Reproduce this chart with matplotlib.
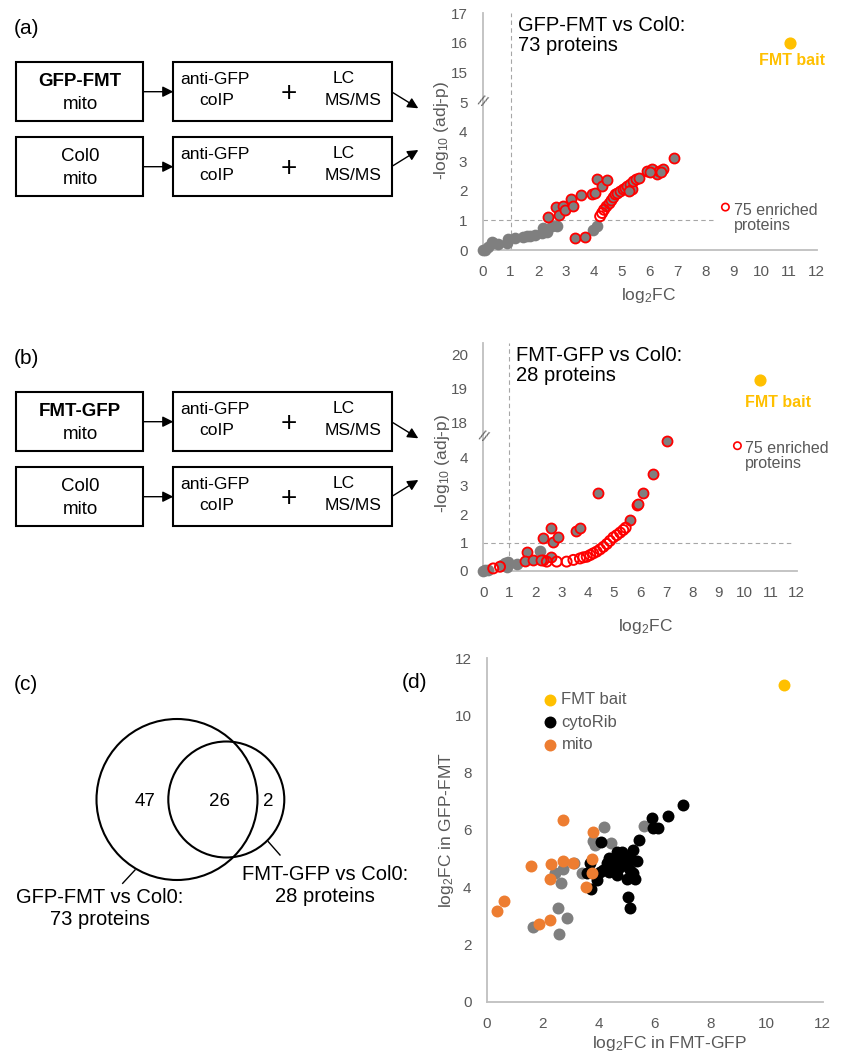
import numpy as np
import matplotlib
matplotlib.use('Agg')
import matplotlib.pyplot as plt
from matplotlib.patches import Rectangle, Circle

plt.rcParams['font.family'] = ['Liberation Sans', 'DejaVu Sans']
plt.rcParams['mathtext.default'] = 'regular'

# ---- data: panel (a) GFP-FMT vs Col0 volcano ----
a_grey_x = [0.0, 0.08, 0.2, 0.32, 0.38, 0.56, 0.86, 0.92, 1.16, 1.46, 1.6, 1.7, 1.88, 2.12, 2.18, 2.3, 2.48, 2.66, 3.98, 4.1]
a_grey_y = [0.0, 0.0, 0.11, 0.28, 0.23, 0.2, 0.23, 0.36, 0.4, 0.45, 0.47, 0.49, 0.51, 0.57, 0.74, 0.62, 0.8, 0.82, 0.68, 0.8]
a_hit_x = [2.36, 2.64, 2.73, 2.88, 2.97, 3.17, 3.26, 3.52, 3.30, 3.66, 3.94, 4.02, 4.10, 4.29, 4.48,
           4.44, 4.52, 4.60, 4.68, 4.76, 4.84, 4.94, 5.04, 5.12, 5.20, 5.30, 5.36, 5.24, 5.40, 5.49,
           5.60, 5.90, 6.08, 6.26, 6.32, 6.48, 6.86, 6.0, 6.4]
a_hit_y = [1.10, 1.45, 1.19, 1.50, 1.34, 1.73, 1.48, 1.85, 0.39, 0.45, 1.88, 1.93, 2.41, 2.16, 2.36,
           1.48, 1.59, 1.70, 1.80, 1.88, 1.93, 1.99, 2.05, 2.10, 2.16, 2.22, 2.05, 1.99, 2.33, 2.41,
           2.44, 2.67, 2.73, 2.56, 2.67, 2.73, 3.11, 2.62, 2.62]
a_ring_x = [4.22, 4.29, 4.36]
a_ring_y = [1.14, 1.25, 1.36]
a_bait = (11.04, 16.0)

# ---- data: panel (b) FMT-GFP vs Col0 volcano ----
b_grey_x = [0.0, 0.06, 0.19, 0.7, 0.83, 0.89, 0.96, 1.28, 2.17]
b_grey_y = [0.0, 0.02, 0.04, 0.2, 0.27, 0.15, 0.33, 0.25, 0.70]
b_hit_x = [1.66, 1.6, 1.92, 2.30, 2.58, 2.68, 2.87, 2.58, 2.30, 3.55, 3.70, 4.38, 5.60, 5.90, 5.94, 6.13, 6.51, 7.02, 2.2]
b_hit_y = [0.68, 0.35, 0.39, 1.15, 1.50, 1.03, 1.19, 0.50, 0.39, 1.42, 1.50, 2.74, 1.80, 2.33, 2.36, 2.74, 3.42, 4.56, 0.4]
b_ring_x = [0.38, 0.64, 2.43, 2.81, 3.19, 3.45, 3.70, 3.83, 3.96, 4.09, 4.21, 4.34, 4.47, 4.60, 4.73,
            4.85, 4.98, 5.11, 5.24, 5.36, 5.45]
b_ring_y = [0.09, 0.15, 0.33, 0.33, 0.33, 0.39, 0.44, 0.48, 0.50, 0.56, 0.62, 0.68, 0.76, 0.85, 0.95,
            1.06, 1.18, 1.26, 1.35, 1.44, 1.52]
b_bait = (10.6, 19.27)

# ---- data: panel (c) venn ----
venn_counts = [47, 26, 2]
venn_sets = ['GFP-FMT vs Col0:\n73 proteins', 'FMT-GFP vs Col0:\n28 proteins']

# ---- data: panel (d) log2FC vs log2FC ----
d_bait = (10.62, 11.07)
d_rib_x = [7.02, 6.49, 5.89, 5.93, 6.13, 5.44, 5.24, 5.36, 5.30, 5.12, 5.0, 5.06, 4.82, 4.64, 4.52, 4.35,
           4.29, 4.17, 4.35, 4.64, 4.76, 4.88, 5.12, 5.24, 5.04, 5.1, 4.08, 3.93, 3.71, 3.69, 3.57, 4.05, 4.52]
d_rib_y = [6.86, 6.48, 6.42, 6.07, 6.07, 5.63, 5.29, 4.91, 4.30, 4.59, 4.30, 4.88, 5.23, 5.23, 4.94, 5.0,
           4.83, 4.59, 4.53, 4.42, 4.71, 4.94, 5.06, 4.48, 3.64, 3.28, 5.58, 4.24, 3.92, 4.83, 4.5, 4.53, 4.65]
d_other_x = [5.62, 4.19, 4.43, 3.81, 3.87, 3.1, 3.39, 2.74, 2.44, 2.64, 2.55, 2.86, 1.64, 2.58]
d_other_y = [6.14, 6.1, 5.55, 5.6, 5.47, 4.85, 4.51, 4.65, 4.51, 4.13, 3.26, 2.93, 2.62, 2.36]
d_mito_x = [2.74, 3.81, 1.57, 2.29, 2.74, 3.07, 3.75, 3.75, 2.26, 3.54, 0.6, 0.36, 1.88, 2.26]
d_mito_y = [6.36, 5.91, 4.73, 4.8, 4.92, 4.86, 4.98, 4.51, 4.28, 4.01, 3.51, 3.16, 2.7, 2.85]

GREY = '#7f7f7f'
TXT = '#595959'
SPINE = '#bfbfbf'
GOLD = '#ffc000'
ORANGE = '#ed7d31'

W, H = 846, 1054
fig = plt.figure(figsize=(W / 100, H / 100), dpi=100)


def px_axes(x0, x1, ytop, ybot):
    return fig.add_axes([x0 / W, 1 - ybot / H, (x1 - x0) / W, (ybot - ytop) / H])


# overlay for diagrams / venn / panel letters (pixel coords)
ov = fig.add_axes([0, 0, 1, 1])
ov.set_xlim(0, W)
ov.set_ylim(H, 0)
ov.axis('off')


def flow(y0, top_name):
    for k, (name, bold) in enumerate([(top_name, True), ('Col0', False)]):
        yb = y0 + 62.3 + 75 * k
        ov.add_patch(Rectangle((15.7, yb), 127.6, 58.4, fill=False, lw=1.5, ec='black'))
        ov.add_patch(Rectangle((173.3, yb), 219, 58.4, fill=False, lw=1.5, ec='black'))
        ov.text(80, yb + 19.5, name, ha='center', va='center', fontsize=13.5,
                fontweight='bold' if bold else 'normal')
        ov.text(80, yb + 42, 'mito', ha='center', va='center', fontsize=13.5)
        ov.text(215, yb + 17.5, 'anti-GFP', ha='center', va='center', fontsize=12.5)
        ov.text(216.7, yb + 38.5, 'coIP', ha='center', va='center', fontsize=12.5)
        ov.text(288.3, yb + 32, '+', ha='center', va='center', fontsize=20)
        ov.text(343.3, yb + 16.5, 'LC', ha='center', va='center', fontsize=12.5)
        ov.text(353.3, yb + 38, 'MS/MS', ha='center', va='center', fontsize=12.5)
        ym = yb + 29.4
        ov.annotate('', xy=(173.3, ym), xytext=(143.3, ym),
                    arrowprops=dict(arrowstyle='-|>', color='black', lw=1, mutation_scale=16,
                                    shrinkA=0, shrinkB=0))
    ov.annotate('', xy=(418.3, y0 + 108.3), xytext=(393, y0 + 92.7),
                arrowprops=dict(arrowstyle='-|>', color='black', lw=1, mutation_scale=16,
                                shrinkA=0, shrinkB=0))
    ov.annotate('', xy=(418.3, y0 + 150), xytext=(393, y0 + 165.7),
                arrowprops=dict(arrowstyle='-|>', color='black', lw=1, mutation_scale=16,
                                shrinkA=0, shrinkB=0))


flow(0, 'GFP-FMT')
flow(330, 'FMT-GFP')

for lab, x, y in [('(a)', 14, 28), ('(b)', 14, 358), ('(c)', 14, 684), ('(d)', 402, 682)]:
    ov.text(x, y, lab, ha='left', va='center', fontsize=15)

# venn
ov.add_patch(Circle((177, 799.5), 80.5, fill=False, lw=1.5, ec='black'))
ov.add_patch(Circle((226.3, 799.5), 58, fill=False, lw=1.5, ec='black'))
for n, x in zip(venn_counts, [145, 219, 268]):
    ov.text(x, 802, str(n), ha='center', va='center', fontsize=13.5)
ov.plot([135, 122.7], [870, 883.3], color='black', lw=1)
ov.plot([268.3, 280], [841.7, 855], color='black', lw=1)
ov.text(100, 888, venn_sets[0], ha='center', va='top', fontsize=14.5, linespacing=1.2)
ov.text(325.3, 865, venn_sets[1], ha='center', va='top', fontsize=14.5, linespacing=1.2)


def style(ax):
    for s in ['top', 'right']:
        ax.spines[s].set_visible(False)
    for s in ['left', 'bottom']:
        ax.spines[s].set_color(SPINE)
        ax.spines[s].set_linewidth(1.3)
    ax.tick_params(length=0, labelsize=11, labelcolor=TXT, pad=11)
    ax.patch.set_alpha(0)


def volcano(ax, fwd, inv, ymax, yticks, gx, gy, hx, hy, rx, ry, bait, title, lab_xy, leg_xy, ylab_xy, xlab_xy):
    style(ax)
    ax.set_yscale('function', functions=(fwd, inv))
    ax.set_xlim(0, 12)
    ax.set_ylim(0, ymax)
    ax.set_xticks(range(13))
    ax.set_yticks(yticks)
    ax.axvline(1, color='#a6a6a6', lw=0.8, ls=(0, (4, 3)), ymax=1.0)
    ax.plot([0, 11.9 if ymax > 20 else 8.3], [1, 1], color='#a6a6a6', lw=0.8, ls=(0, (4, 3)))
    ax.scatter(gx, gy, s=52, color=GREY, edgecolor=GREY, lw=1.2, clip_on=False, zorder=3)
    ax.scatter(hx, hy, s=52, color=GREY, edgecolor='red', lw=1.3, clip_on=False, zorder=4)
    ax.scatter(rx, ry, s=52, facecolor='none', edgecolor='red', lw=1.4, clip_on=False, zorder=4)
    ax.scatter([bait[0]], [bait[1]], s=60, color=GOLD, zorder=5, clip_on=False)
    ax.text(lab_xy[0], lab_xy[1], 'FMT bait', color=GOLD, fontweight='bold', fontsize=11.5,
            ha='center', va='center')
    ax.scatter([leg_xy[0]], [leg_xy[1]], s=28, facecolor='none', edgecolor='red', lw=1.2)
    ax.text(leg_xy[0] + 0.3, leg_xy[1] + 0.15, '75 enriched\nproteins', color=TXT, fontsize=11.5,
            ha='left', va='top', linespacing=1.0)
    ax.text(0.105, 0.99, title, transform=ax.transAxes, ha='left', va='top', fontsize=14.5,
            linespacing=1.1)
    ax.text(0, fwd(np.array(5.6 if ymax < 20 else 4.7)), '//', transform=ax.get_yaxis_transform(),
            ha='center', va='center', fontsize=10, color=TXT, rotation=-25)
    ax.set_ylabel('-log$_{10}$ (adj-p)', fontsize=12.5, color=TXT)
    ax.set_xlabel('log$_{2}$FC', fontsize=12.5, color=TXT)
    ax.yaxis.set_label_coords(*ylab_xy)
    ax.xaxis.set_label_coords(*xlab_xy)


def fa(y):
    y = np.asarray(y, dtype=float)
    return np.where(y <= 5, y, np.where(y >= 15, y - 9, 5 + (y - 5) / 10))


def ia(p):
    p = np.asarray(p, dtype=float)
    return np.where(p <= 5, p, np.where(p >= 6, p + 9, 5 + (p - 5) * 10))


def fb(y):
    y = np.asarray(y, dtype=float)
    return np.where(y <= 5, y, np.where(y >= 18, 5.2 + 1.2 * (y - 18), 5 + (y - 5) * 0.2 / 13))


def ib(p):
    p = np.asarray(p, dtype=float)
    return np.where(p <= 5, p, np.where(p >= 5.2, 18 + (p - 5.2) / 1.2, 5 + (p - 5) * 13 / 0.2))


axa = px_axes(482.7, 816.7, 13.3, 250)
volcano(axa, fa, ia, 17.0, [0, 1, 2, 3, 4, 5, 15, 16, 17], a_grey_x, a_grey_y, a_hit_x, a_hit_y,
        a_ring_x, a_ring_y, a_bait, 'GFP-FMT vs Col0:\n73 proteins', (11.1, 15.4), (8.72, 1.45),
        (-0.095, 0.507), (0.495, -0.15))

axb = px_axes(483.3, 796.7, 343.3, 571)
volcano(axb, fb, ib, 20.33, [0, 1, 2, 3, 4, 18, 19, 20], b_grey_x, b_grey_y, b_hit_x, b_hit_y,
        b_ring_x, b_ring_y, b_bait, 'FMT-GFP vs Col0:\n28 proteins', (11.3, 18.6), (9.73, 4.4),
        (-0.1, 0.473), (0.519, -0.2))

# panel (d)
axd = px_axes(486.7, 822.7, 658, 1001.7)
style(axd)
axd.tick_params(pad=11)
axd.set_xlim(0, 12)
axd.set_ylim(0, 12)
axd.set_xticks([0, 2, 4, 6, 8, 10, 12])
axd.set_yticks([0, 2, 4, 6, 8, 10, 12])
axd.scatter(d_other_x, d_other_y, s=74, color=GREY, lw=0, zorder=3)
axd.scatter(d_rib_x, d_rib_y, s=74, color='black', lw=0, zorder=4, label='cytoRib')
axd.scatter(d_mito_x, d_mito_y, s=74, color=ORANGE, lw=0, zorder=5, label='mito')
axd.scatter([d_bait[0]], [d_bait[1]], s=74, color=GOLD, lw=0, zorder=5, label='FMT bait')
h, l = axd.get_legend_handles_labels()
order = [2, 0, 1]
leg = axd.legend([h[i] for i in order], [l[i] for i in order], loc='upper left',
                 bbox_to_anchor=(0.168, 0.9), frameon=False, fontsize=12, handlelength=0.8,
                 handletextpad=0.3, labelspacing=0.45, borderpad=0, borderaxespad=0)
for t in leg.get_texts():
    t.set_color(TXT)
axd.set_xlabel('log$_{2}$FC in FMT-GFP', fontsize=12.5, color=TXT)
axd.set_ylabel('log$_{2}$FC in GFP-FMT', fontsize=12.5, color=TXT)
axd.xaxis.set_label_coords(0.545, -0.093)
axd.yaxis.set_label_coords(-0.09, 0.5)

fig.savefig('out.png', dpi=100)
